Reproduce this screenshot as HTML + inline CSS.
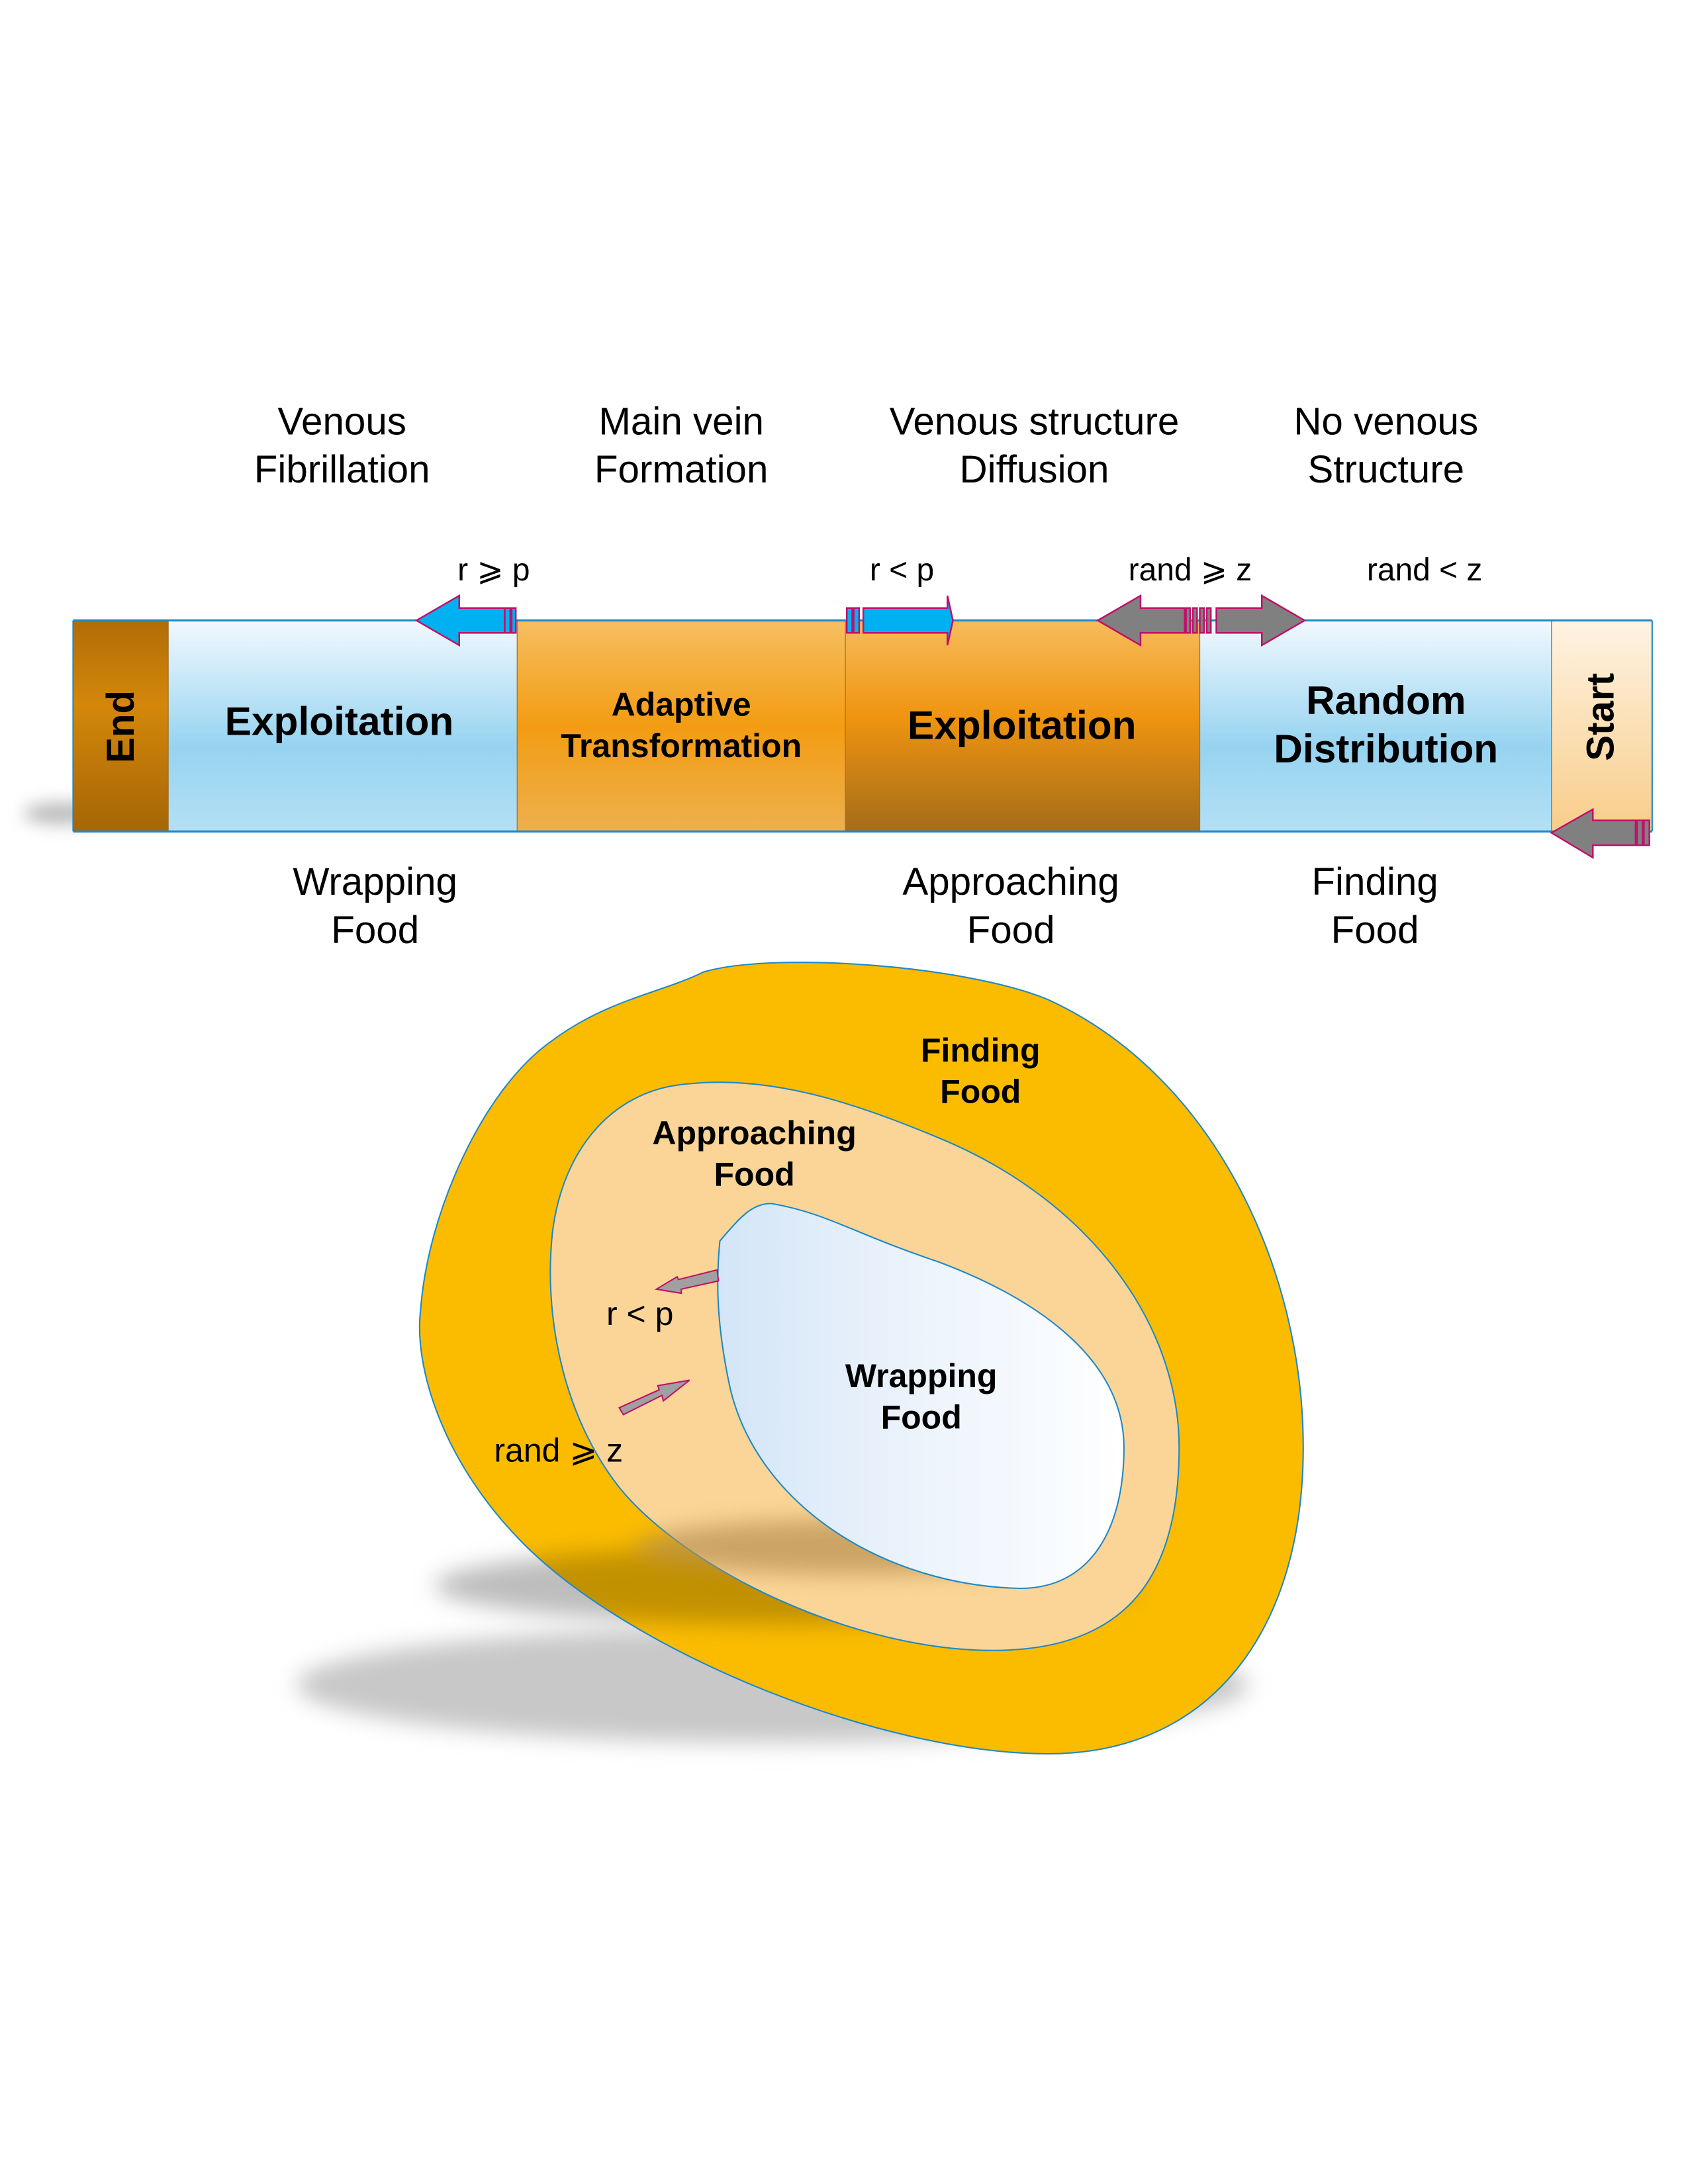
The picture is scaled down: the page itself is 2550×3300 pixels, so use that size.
<!DOCTYPE html>
<html><head><meta charset="utf-8"><style>html,body{margin:0;padding:0;background:#fff}svg{display:block}</style></head>
<body>
<svg width="2550" height="3300" viewBox="0 0 1224 1584" xmlns="http://www.w3.org/2000/svg" font-family="Liberation Sans, sans-serif">
<defs>
<linearGradient id="blue" x1="0" y1="0" x2="0" y2="1"><stop offset="0" stop-color="#F2F9FE"/><stop offset="0.6" stop-color="#96D3F0"/><stop offset="1" stop-color="#B4E0F5"/></linearGradient>
<linearGradient id="orange" x1="0" y1="0" x2="0" y2="1"><stop offset="0" stop-color="#F6BF62"/><stop offset="0.5" stop-color="#F39C12"/><stop offset="1" stop-color="#EDB04E"/></linearGradient>
<linearGradient id="orange2" x1="0" y1="0" x2="0" y2="1"><stop offset="0" stop-color="#F6BC5C"/><stop offset="0.45" stop-color="#F09510"/><stop offset="1" stop-color="#A56C1A"/></linearGradient>
<linearGradient id="endg" x1="0" y1="0" x2="0" y2="1"><stop offset="0" stop-color="#B06C08"/><stop offset="0.4" stop-color="#D4870A"/><stop offset="1" stop-color="#A56606"/></linearGradient>
<linearGradient id="startg" x1="0" y1="0" x2="0" y2="1"><stop offset="0" stop-color="#FEF3E3"/><stop offset="1" stop-color="#F8CD8A"/></linearGradient>
<linearGradient id="inner" x1="0" y1="0" x2="1" y2="0"><stop offset="0" stop-color="#D3E5F7"/><stop offset="0.4" stop-color="#E8F1FB"/><stop offset="1" stop-color="#FFFFFF"/></linearGradient>
<filter id="blur" x="-20%" y="-50%" width="140%" height="200%"><feGaussianBlur stdDeviation="8"/></filter>
<filter id="blur2" x="-50%" y="-100%" width="200%" height="300%"><feGaussianBlur stdDeviation="6"/></filter>
<clipPath id="outerclip"><path d="M510,705 C560,690 700,700 760,725 C880,780 945,920 945,1050 C945,1180 880,1272 760,1272 C640,1272 460,1200 380,1120 C320,1060 300,990 305,950 C310,880 350,790 400,755 C440,725 480,720 510,705 Z"/></clipPath>
</defs>

<ellipse cx="45" cy="590" rx="28" ry="8" fill="#bbb" filter="url(#blur2)"/>
<rect x="53" y="450" width="69" height="153" fill="url(#endg)"/>
<rect x="122" y="450" width="253" height="153" fill="url(#blue)"/>
<rect x="375" y="450" width="238" height="153" fill="url(#orange)"/>
<rect x="613" y="450" width="257" height="153" fill="url(#orange2)"/>
<rect x="870" y="450" width="255" height="153" fill="url(#blue)"/>
<rect x="1125" y="450" width="73" height="153" fill="url(#startg)"/>
<g stroke="#A07030" stroke-width="0.6"><line x1="122" y1="450" x2="122" y2="603"/><line x1="375" y1="450" x2="375" y2="603"/><line x1="613" y1="450" x2="613" y2="603"/><line x1="870" y1="450" x2="870" y2="603"/><line x1="1125" y1="450" x2="1125" y2="603"/></g>
<line x1="53" y1="450" x2="1198" y2="450" stroke="#1E88C8" stroke-width="1.5"/>
<line x1="53" y1="603" x2="1198" y2="603" stroke="#1E88C8" stroke-width="1.5"/>
<line x1="1198" y1="450" x2="1198" y2="603" stroke="#1E88C8" stroke-width="1"/>
<line x1="53" y1="450" x2="53" y2="603" stroke="#1E88C8" stroke-width="1"/>

<g stroke="#C0106A" stroke-width="1.2">
<path d="M302,450 L333,432 L333,441 L366,441 L366,459 L333,459 L333,468 Z" fill="#00B0F0"/>
<rect x="366" y="441" width="4" height="18" fill="#00B0F0"/><rect x="371" y="441" width="3" height="18" fill="#00B0F0"/>
<path d="M626,441 L687,441 L687,432 L691,450 L687,468 L687,459 L626,459 Z" fill="#00B0F0"/>
<rect x="614" y="441" width="4" height="18" fill="#00B0F0"/><rect x="619" y="441" width="4" height="18" fill="#00B0F0"/>
<path d="M796,450 L827,432 L827,441 L859,441 L859,459 L827,459 L827,468 Z" fill="#808080"/>
<path d="M882,441 L915,441 L915,432 L946,450 L915,468 L915,459 L882,459 Z" fill="#808080"/>
<rect x="860" y="441" width="3" height="18" fill="#808080"/><rect x="865" y="441" width="3" height="18" fill="#808080"/><rect x="870" y="441" width="3" height="18" fill="#808080"/><rect x="875" y="441" width="3" height="18" fill="#808080"/>
<path d="M1125,604 L1155,587 L1155,595 L1186,595 L1186,613 L1155,613 L1155,622 Z" fill="#808080"/>
<rect x="1187" y="595" width="4" height="18" fill="#808080"/><rect x="1192" y="595" width="4" height="18" fill="#808080"/>
</g>

<g font-size="28" text-anchor="middle" fill="#000">
<text x="248" y="315">Venous</text><text x="248" y="350">Fibrillation</text>
<text x="494" y="315">Main vein</text><text x="494" y="350">Formation</text>
<text x="750" y="315">Venous structure</text><text x="750" y="350">Diffusion</text>
<text x="1005" y="315">No venous</text><text x="1005" y="350">Structure</text>
<text x="272" y="649">Wrapping</text><text x="272" y="684">Food</text>
<text x="733" y="649">Approaching</text><text x="733" y="684">Food</text>
<text x="997" y="649">Finding</text><text x="997" y="684">Food</text>
</g>
<g font-size="23" text-anchor="middle" fill="#000">
<text x="358" y="421">r ⩾ p</text>
<text x="654" y="421">r &lt; p</text>
<text x="863" y="421">rand ⩾ z</text>
<text x="1033" y="421">rand &lt; z</text>
</g>
<g font-weight="bold" text-anchor="middle" fill="#000">
<text x="246" y="533" font-size="29">Exploitation</text>
<text x="494" y="519" font-size="24">Adaptive</text><text x="494" y="549" font-size="24">Transformation</text>
<text x="741" y="536" font-size="29">Exploitation</text>
<text x="1005" y="518" font-size="29">Random</text><text x="1005" y="553" font-size="29">Distribution</text>
<text transform="translate(97,527) rotate(-90)" font-size="28">End</text>
<text transform="translate(1170,520) rotate(-90)" font-size="28">Start</text>
</g>

<ellipse cx="560" cy="1222" rx="345" ry="42" fill="#C8C8C8" filter="url(#blur)"/>
<ellipse cx="570" cy="1150" rx="255" ry="28" fill="#BDBDBD" filter="url(#blur)"/>
<path d="M510,705 C560,690 700,700 760,725 C880,780 945,920 945,1050 C945,1180 880,1272 760,1272 C640,1272 460,1200 380,1120 C320,1060 300,990 305,950 C310,880 350,790 400,755 C440,725 480,720 510,705 Z" fill="#FBBC00"/>
<g clip-path="url(#outerclip)"><ellipse cx="570" cy="1150" rx="255" ry="28" fill="#B88A00" filter="url(#blur)" opacity="0.85"/></g>
<path d="M510,705 C560,690 700,700 760,725 C880,780 945,920 945,1050 C945,1180 880,1272 760,1272 C640,1272 460,1200 380,1120 C320,1060 300,990 305,950 C310,880 350,790 400,755 C440,725 480,720 510,705 Z" fill="none" stroke="#1E88C8" stroke-width="1"/>
<path d="M500,786 C560,780 620,800 680,825 C790,870 855,960 855,1050 C855,1140 820,1197 720,1197 C620,1197 500,1140 450,1080 C410,1030 395,960 400,900 C405,840 440,790 500,786 Z" fill="#FAD597" stroke="#1E88C8" stroke-width="1"/>
<ellipse cx="620" cy="1122" rx="160" ry="20" fill="#B89050" filter="url(#blur)" opacity="0.7"/>
<path d="M560,873 C600,880 620,895 680,915 C760,945 815,990 815,1050 C815,1110 790,1152 740,1152 C640,1150 545,1090 528,1000 C520,960 519,930 522,900 C535,885 545,872 560,873 Z" fill="url(#inner)" stroke="#1E88C8" stroke-width="1"/>

<g stroke="#C0106A" stroke-width="1" fill="#A0A0A0">
<path d="M520,921 L521,929 L494,935 L494,938 L476,935 L491,926 L492,928 Z"/>
<path d="M449,1021 L452,1026 L480,1012 L481,1016 L500,1001 L477,1005 L478,1008 Z"/>
</g>

<g font-weight="bold" text-anchor="middle" font-size="24" fill="#000">
<text x="711" y="770">Finding</text><text x="711" y="800">Food</text>
<text x="547" y="830">Approaching</text><text x="547" y="860">Food</text>
<text x="668" y="1006">Wrapping</text><text x="668" y="1036">Food</text>
</g>
<g text-anchor="middle" font-size="24" fill="#000">
<text x="464" y="961">r &lt; p</text>
<text x="405" y="1060">rand ⩾ z</text>
</g>
</svg>
</body></html>
